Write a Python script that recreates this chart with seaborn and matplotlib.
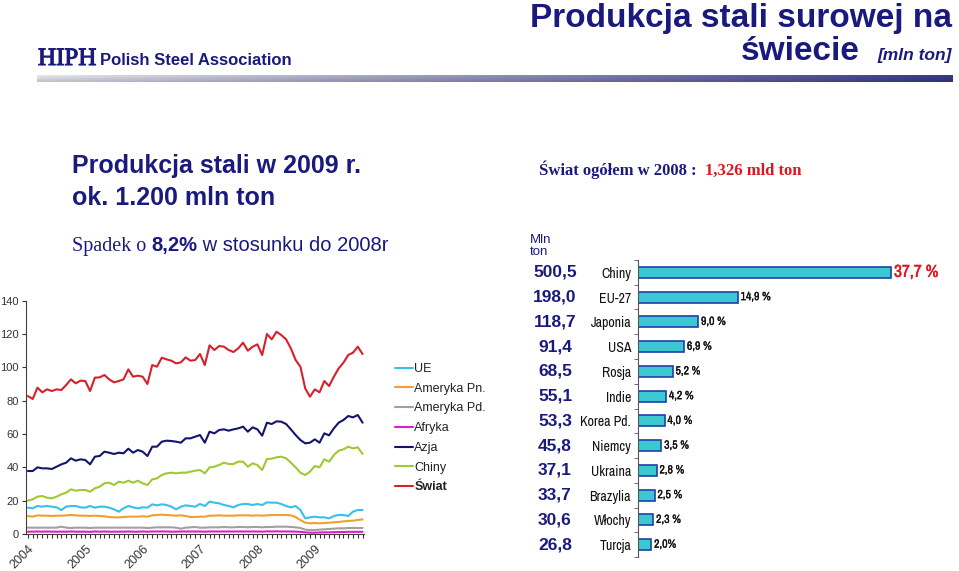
#!/usr/bin/env python3
"""Produkcja stali surowej na swiecie - odtworzenie slajdu HIPH."""

import numpy as np
import pandas as pd
import matplotlib
matplotlib.use("Agg")
import matplotlib.pyplot as plt
import matplotlib.transforms as mtransforms
import matplotlib.patheffects as pe
from matplotlib import font_manager
import seaborn as sns

# --- dane: miesieczna produkcja (mln t), sty 2004 - lis 2009 ---
lata = ["2004", "2005", "2006", "2007", "2008", "2009"]

regiony = ["UE", "Ameryka Pn.", "Ameryka Pd.", "Afryka", "Azja", "Chiny", "Świat"]

ue = [15.8, 15.4, 16.8, 16.4, 16.8, 16.4, 16.0, 14.4, 16.4, 16.8, 16.8, 16.0,
      15.8, 16.8, 15.8, 16.4, 16.4, 15.8, 14.8, 13.4, 15.4, 16.8, 16.0, 15.4,
      16.0, 15.8, 17.8, 17.2, 17.8, 17.4, 16.4, 14.8, 16.4, 17.2, 16.8, 16.4,
      18.0, 16.8, 19.4, 18.8, 18.4, 17.4, 16.8, 16.0, 17.4, 18.0, 18.0, 17.4,
      18.0, 17.4, 19.0, 18.8, 18.8, 18.0, 16.8, 16.0, 16.8, 14.4, 9.4, 10.0,
      10.4, 10.0, 10.0, 9.4, 10.8, 11.4, 11.4, 10.8, 13.4, 14.4, 14.4]
am_pn = [10.8, 10.4, 11.2, 11.0, 11.0, 10.8, 11.0, 11.0, 11.2, 11.4, 11.2, 11.0,
         11.0, 10.8, 11.0, 10.8, 10.6, 10.2, 10.0, 10.0, 10.2, 10.4, 10.4, 10.4,
         10.6, 10.4, 11.2, 11.4, 11.6, 11.4, 11.2, 11.0, 11.2, 10.8, 10.2, 10.2,
         10.4, 10.4, 11.0, 11.0, 11.2, 11.0, 11.0, 11.0, 11.2, 11.2, 11.2, 11.0,
         11.2, 11.0, 11.2, 11.4, 11.4, 11.4, 11.4, 11.2, 10.2, 8.4, 6.8, 6.4,
         6.6, 6.4, 6.6, 6.8, 7.0, 7.2, 7.6, 7.8, 8.0, 8.4, 8.8]
am_pd = [3.8, 3.8, 3.8, 3.8, 3.8, 3.8, 3.8, 4.4, 3.8, 3.6, 3.8, 3.8,
         3.8, 3.6, 3.8, 3.8, 3.8, 3.8, 3.8, 3.8, 3.8, 3.8, 3.8, 3.8,
         3.8, 3.6, 3.8, 4.0, 4.0, 4.0, 4.0, 3.8, 3.2, 3.8, 4.0, 4.2,
         3.8, 3.8, 4.0, 4.0, 4.0, 4.2, 4.0, 4.0, 4.2, 4.2, 4.0, 4.2,
         4.2, 4.0, 4.2, 4.2, 4.4, 4.4, 4.4, 4.2, 4.0, 3.6, 2.6, 2.4,
         2.4, 2.6, 2.8, 3.0, 3.2, 3.4, 3.4, 3.6, 3.6, 3.6, 3.6]
afryka = [1.4, 1.4, 1.5, 1.4, 1.5, 1.4, 1.4, 1.4, 1.4, 1.5, 1.4, 1.4,
          1.4, 1.3, 1.5, 1.4, 1.5, 1.4, 1.4, 1.4, 1.4, 1.5, 1.4, 1.4,
          1.5, 1.4, 1.5, 1.5, 1.5, 1.5, 1.4, 1.4, 1.5, 1.5, 1.5, 1.5,
          1.5, 1.4, 1.5, 1.5, 1.5, 1.5, 1.5, 1.5, 1.5, 1.5, 1.5, 1.5,
          1.5, 1.4, 1.6, 1.5, 1.6, 1.5, 1.5, 1.5, 1.4, 1.3, 1.0, 0.8,
          0.8, 0.9, 1.0, 1.0, 1.1, 1.2, 1.2, 1.3, 1.3, 1.3, 1.3]
azja = [37.8, 37.8, 40.0, 39.4, 39.4, 39.0, 40.4, 41.8, 42.8, 45.4, 44.0, 44.8,
        44.4, 41.8, 46.4, 46.8, 49.4, 48.8, 48.0, 48.8, 48.4, 51.2, 48.8, 50.4,
        49.4, 46.8, 52.4, 52.4, 55.4, 56.0, 55.8, 55.4, 54.8, 57.4, 57.4, 58.4,
        59.4, 54.8, 61.4, 60.4, 62.4, 62.8, 62.0, 62.8, 63.4, 64.4, 61.4, 64.0,
        62.8, 59.0, 66.8, 66.0, 67.6, 67.4, 66.0, 62.8, 59.4, 56.4, 54.4, 54.8,
        56.8, 54.8, 60.4, 59.2, 63.4, 66.8, 68.4, 70.8, 70.0, 71.4, 66.8]
chiny = [20.0, 20.8, 22.4, 22.8, 21.8, 21.4, 22.4, 23.8, 24.8, 26.8, 26.0, 26.4,
         26.4, 25.4, 27.4, 28.4, 30.4, 30.8, 29.4, 31.4, 30.8, 32.0, 30.8, 32.0,
         30.4, 29.4, 32.8, 33.4, 35.4, 36.4, 36.8, 36.4, 36.8, 36.8, 37.4, 38.0,
         38.4, 36.4, 40.0, 40.4, 41.4, 42.8, 42.0, 42.0, 43.4, 43.4, 40.4, 42.4,
         41.4, 38.4, 45.0, 45.2, 46.0, 46.4, 45.4, 42.8, 40.0, 36.8, 35.4, 37.4,
         40.8, 40.0, 44.8, 43.4, 47.4, 50.0, 50.8, 52.4, 51.4, 52.0, 48.0]
swiat = [82.8, 81.0, 87.8, 85.0, 86.8, 85.8, 86.8, 86.4, 89.4, 92.8, 90.4, 92.0,
         91.8, 85.8, 93.8, 94.0, 95.4, 92.8, 91.0, 91.8, 92.8, 98.8, 94.4, 95.0,
         94.4, 90.0, 101.4, 100.4, 105.8, 104.8, 104.0, 102.4, 103.0, 106.0, 104.0, 104.4,
         108.0, 101.4, 113.2, 110.4, 112.8, 112.4, 110.4, 109.2, 111.4, 114.8, 110.0, 112.4,
         113.8, 107.4, 120.0, 116.8, 121.4, 119.4, 116.8, 111.4, 104.4, 100.4, 87.4, 82.4,
         86.8, 85.0, 91.8, 88.8, 94.4, 99.4, 102.8, 107.4, 108.8, 112.4, 108.0]

# --- dane: najwieksi producenci 2008 ---
kraje = ["Chiny", "EU-27", "Japonia", "USA", "Rosja", "Indie", "Korea Pd.",
         "Niemcy", "Ukraina", "Brazylia", "Włochy", "Turcja"]
produkcja = ["500,5", "198,0", "118,7", "91,4", "68,5", "55,1", "53,3",
             "45,8", "37,1", "33,7", "30,6", "26,8"]
udzial = [37.7, 14.9, 9.0, 6.9, 5.2, 4.2, 4.0, 3.5, 2.8, 2.5, 2.3, 2.0]
udzial_txt = ["37,7 %", "14,9 %", "9,0 %", "6,9 %", "5,2 %", "4,2 %", "4,0 %",
              "3,5 %", "2,8 %", "2,5 %", "2,3 %", "2,0%"]

kolory = ["#38c0ec", "#f0a030", "#a0a0a0", "#e01ec8", "#14146e", "#a0c832", "#d8202c"]
NAVY = "#1a1a7e"

W, H = 959, 571


def fx(px):
    return px / W


def fy(py):
    return 1 - py / H


sns.set_style("ticks")
plt.rcParams["font.family"] = ["Liberation Sans", "DejaVu Sans"]

# czcionka waska (jak Arial Narrow) - jesli jest
ttf = font_manager.fontManager.ttflist
all_names = {f.name for f in ttf}
narrow_names = sorted(n for n in all_names if "Narrow" in n or "Condensed" in n)
if "Liberation Sans Narrow" in all_names:
    NARROW = dict(family="Liberation Sans Narrow")
elif narrow_names:
    NARROW = dict(family=narrow_names[0])
elif any(f.name == "DejaVu Sans" and f.stretch == "condensed" for f in ttf):
    NARROW = dict(family="DejaVu Sans", fontstretch="condensed")
else:
    NARROW = dict(family="Liberation Sans")

fig = plt.figure(figsize=(W / 100, H / 100), dpi=100)
fig.patch.set_facecolor("white")

# --- naglowek ---
fig.text(fx(38), fy(65), "HIPH", family="Liberation Serif", fontsize=18,
         color=NAVY, va="baseline",
         path_effects=[pe.withStroke(linewidth=0.8, foreground=NAVY)])
fig.text(fx(100), fy(65), "Polish Steel Association", fontsize=12,
         fontweight="bold", color=NAVY, va="baseline")
fig.text(fx(952), fy(27), "Produkcja stali surowej na", fontsize=24,
         fontweight="bold", color=NAVY, ha="right", va="baseline")
fig.text(fx(952), fy(60), "[mln ton]", fontsize=12.5, fontstyle="italic",
         fontweight="bold", color=NAVY, ha="right", va="baseline")
fig.text(fx(860), fy(60), "świecie", fontsize=24, fontweight="bold",
         color=NAVY, ha="right", va="baseline")

gax = fig.add_axes([fx(37), fy(82), fx(953) - fx(37), (82 - 75) / H])
left = np.array([0.90, 0.90, 0.93])
right = np.array([0.22, 0.22, 0.55])
t = np.linspace(0, 1, 300)[None, :, None]
shade = np.linspace(1.0, 0.85, 8)[:, None, None]
grad = (left + (right - left) * t) * shade
gax.imshow(np.clip(grad, 0, 1), aspect="auto")
gax.axis("off")

renderer = fig.canvas.get_renderer()


def chain(x, y, parts):
    """Kolejne fragmenty tekstu w jednej linii (x, y w pikselach)."""
    for s, kw in parts:
        txt = fig.text(fx(x), fy(y), s, va="baseline", **kw)
        x = txt.get_window_extent(renderer).x1


fig.text(fx(72), fy(173), "Produkcja stali w 2009 r.", fontsize=18,
         fontweight="bold", color=NAVY, va="baseline")
fig.text(fx(72), fy(205), "ok. 1.200 mln ton", fontsize=18,
         fontweight="bold", color=NAVY, va="baseline")
chain(72, 251, [
    ("Spadek o ", dict(family="Liberation Serif", fontsize=14.5, color=NAVY)),
    ("8,2%", dict(fontsize=14.5, fontweight="bold", color=NAVY)),
    (" w stosunku do 2008r", dict(fontsize=14.5, color=NAVY)),
])
chain(539, 175, [
    ("Świat ogółem w 2008 :  ", dict(family="Liberation Serif", fontsize=12,
                                     fontweight="bold", color=NAVY)),
    ("1,326 mld ton", dict(family="Liberation Serif", fontsize=12,
                           fontweight="bold", color="#e0141e")),
])

# --- wykres liniowy ---
frames = []
for name, vals in zip(regiony, [ue, am_pn, am_pd, afryka, azja, chiny, swiat]):
    frames.append(pd.DataFrame({"miesiac": np.arange(len(vals)),
                                "mln_t": vals, "region": name}))
df = pd.concat(frames, ignore_index=True)

ax1 = fig.add_axes([fx(26), fy(534), fx(364) - fx(26), (534 - 300.7) / H])
sns.lineplot(data=df, x="miesiac", y="mln_t", hue="region", hue_order=regiony,
             palette=kolory, linewidth=1.5, ax=ax1)
ax1.set_xlim(-0.4, 70.3)
ax1.set_ylim(0, 140)
ax1.set_yticks(range(0, 141, 20))
ax1.set_xticks(range(0, 61, 12))
ax1.set_xticklabels(lata, rotation=45, ha="right", rotation_mode="anchor")
ax1.set_xticks(range(0, 71), minor=True)
ax1.tick_params(axis="y", labelsize=8, colors="#333333", length=3, width=0.8, pad=2)
ax1.tick_params(axis="x", labelsize=9, colors="#333333", length=3, width=0.8)
ax1.tick_params(axis="x", which="minor", length=3, width=0.8, color="#333333")
ax1.set_xlabel("")
ax1.set_ylabel("")
for s in ("left", "bottom"):
    ax1.spines[s].set_color("#404040")
sns.despine(ax=ax1)

handles, labels = ax1.get_legend_handles_labels()
ax1.get_legend().remove()
leg = fig.legend(handles, labels, loc="upper left", bbox_to_anchor=(fx(395), fy(363)),
                 frameon=False, fontsize=9, handlelength=1.4, handletextpad=0.15,
                 labelspacing=0.62, borderpad=0, borderaxespad=0)
for txt in leg.get_texts():
    txt.set_color("#222222")
leg.get_texts()[-1].set_fontweight("bold")

# --- wykres slupkowy ---
ax2 = fig.add_axes([fx(638), fy(557), fx(953) - fx(638), (557 - 260) / H])
sns.barplot(x=udzial, y=kraje, orient="h", color="#3cc8d2", saturation=1,
            edgecolor="#2040a8", linewidth=1.2, width=0.45, ax=ax2)
ax2.set_xlim(0, 47)
ax2.set_ylim(11.5, -0.5)
ax2.set_yticks(range(len(kraje)))
ax2.set_yticklabels(kraje, fontsize=10, **NARROW)
ax2.set_yticks(np.arange(-0.5, len(kraje), 1), minor=True)
ax2.tick_params(axis="y", which="major", length=0, pad=5, colors="#111111")
ax2.tick_params(axis="y", which="minor", length=3, color="#555555")
ax2.set_xticks([])
ax2.set_xlabel("")
ax2.spines["left"].set_color("#555555")
sns.despine(ax=ax2, bottom=True)

for i, (v, s) in enumerate(zip(udzial, udzial_txt)):
    if i == 0:
        ax2.text(v + 0.5, i, s, fontsize=12.5, color="#e0141e",
                 va="center", ha="left",
                 path_effects=[pe.withStroke(linewidth=0.3, foreground="#e0141e")],
                 **NARROW)
    else:
        ax2.text(v + 0.4, i, s, fontsize=8.5, fontweight="bold",
                 color="#111111", va="center", ha="left",
                 path_effects=[pe.withStroke(linewidth=0.2, foreground="#111111")],
                 **NARROW)

mix = mtransforms.blended_transform_factory(fig.transFigure, ax2.transData)
for i, s in enumerate(produkcja):
    fig.text(fx(555), i, s, transform=mix, fontsize=12.5, fontweight="bold",
             color=NAVY, ha="center", va="center")
fig.text(fx(530), fy(234), "Mln\nton", fontsize=9.5, color=NAVY,
         va="top", ha="left", linespacing=1.0)

fig.savefig("out.png", dpi=100)
